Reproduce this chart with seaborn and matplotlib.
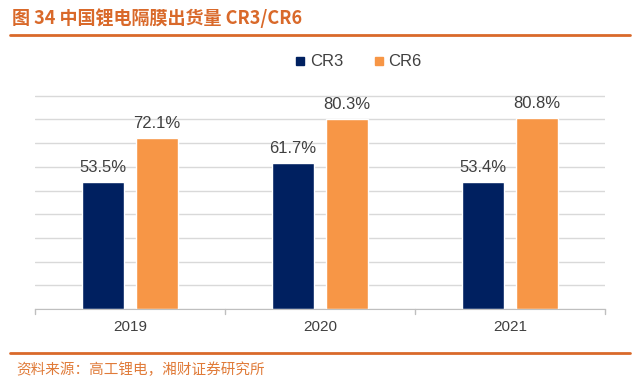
import pandas as pd
import seaborn as sns
import matplotlib.pyplot as plt
from matplotlib.lines import Line2D

# dados
anos = ['2019', '2020', '2021']
cr3 = [53.5, 61.7, 53.4]
cr6 = [72.1, 80.3, 80.8]
series = ['CR3', 'CR6']

titulo = '图 34 中国锂电隔膜出货量 CR3/CR6'
fonte = '资料来源：高工锂电，湘财证券研究所'

cores = {'CR3': '#002060', 'CR6': '#F79646'}
laranja = '#D9692A'

dados = pd.DataFrame({
    'ano': anos * 2,
    'serie': ['CR3'] * len(anos) + ['CR6'] * len(anos),
    'valor': cr3 + cr6,
})

sns.set_style('white')
plt.rcParams['font.family'] = ['Liberation Sans', 'Noto Sans CJK SC', 'DejaVu Sans']

fig = plt.figure(figsize=(6.4, 3.89), dpi=100)
ax = fig.add_axes([35 / 640, 1 - 309 / 389, 570 / 640, (309 - 72) / 389])

sns.barplot(data=dados, x='ano', y='valor', hue='serie', palette=cores,
            width=0.57, gap=0.23, ax=ax, legend=False, saturation=1)

for cont in ax.containers:
    ax.bar_label(cont, labels=[f'{v:.1f}%' for v in cont.datavalues],
                 padding=5, fontsize=12, color='#404040')

ax.set_ylim(0, 100)
ax.set_xlim(-0.5, 2.5)
ax.set_yticks(range(0, 100, 10))
ax.yaxis.grid(True, color='#D9D9D9', linewidth=1)
ax.set_axisbelow(True)
ax.tick_params(axis='y', left=False, labelleft=False)
ax.set_xlabel('')
ax.set_ylabel('')
for lado in ['top', 'right', 'left']:
    ax.spines[lado].set_visible(False)
ax.spines['bottom'].set_color('#BFBFBF')
ax.set_xticks([0, 1, 2])
ax.set_xticklabels(anos, fontsize=11, color='#404040')
ax.tick_params(axis='x', length=0, pad=8)
for b in [-0.5, 0.5, 1.5, 2.5]:
    ax.plot([b, b], [0, -2], color='#BFBFBF', lw=1, clip_on=False,
            transform=ax.transData)

# legenda
alças = [Line2D([], [], marker='s', ls='', color=cores[s], markersize=6) for s in series]
fig.legend(alças, series, loc='center', bbox_to_anchor=(356 / 640, 1 - 62 / 389),
           ncol=2, frameon=False, fontsize=12, handletextpad=0.0,
           columnspacing=1.5, handlelength=1.2, labelcolor='#404040')

# título e fonte
fig.text(12 / 640, 1 - 18 / 389, titulo, fontsize=13, fontweight='bold',
         color=laranja, va='center', family=['Noto Sans CJK SC', 'DejaVu Sans'])
fig.add_artist(Line2D([10 / 640, 630 / 640], [1 - 35 / 389] * 2, color=laranja, lw=2))
fig.add_artist(Line2D([10 / 640, 630 / 640], [1 - 353 / 389] * 2, color=laranja, lw=2))
fig.text(16 / 640, 1 - 370 / 389, fonte, fontsize=10.5, style='italic',
         color='#E07B39', va='center', family=['Noto Sans CJK SC', 'DejaVu Sans'])

fig.savefig('out.png', dpi=100)
